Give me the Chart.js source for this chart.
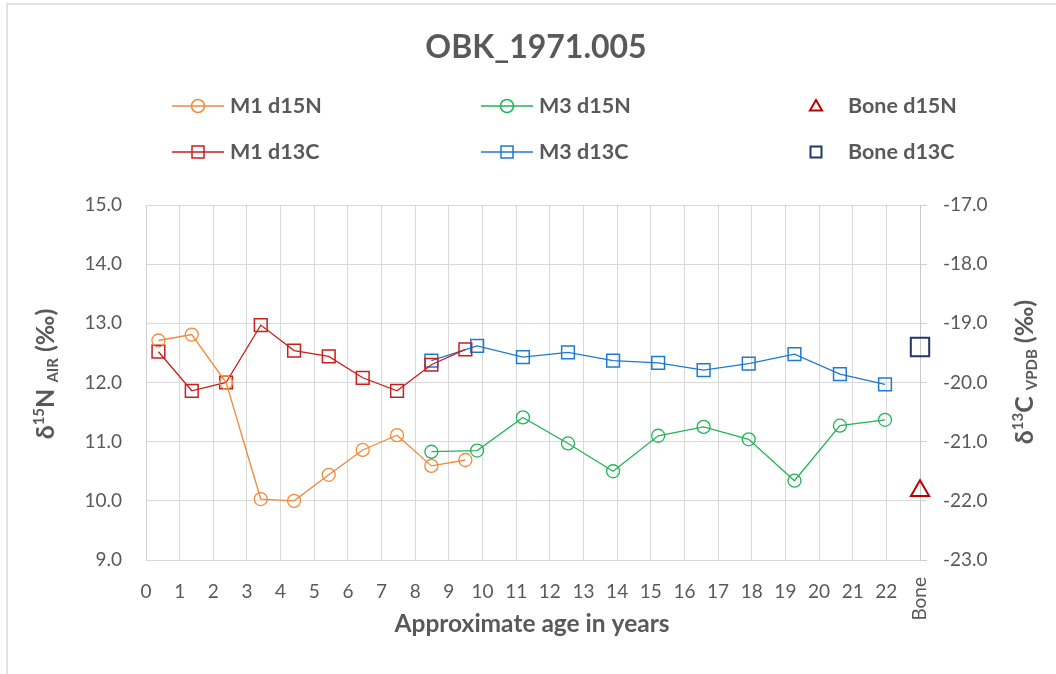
<!DOCTYPE html>
<html>
<head>
<meta charset="utf-8">
<script src="https://cdn.jsdelivr.net/npm/chart.js@4/dist/chart.umd.min.js"></script>
<style>
html,body{margin:0;padding:0;background:#fff;}
#wrap{width:1056px;height:674px;position:relative;}
</style>
</head>
<body>
<div id="wrap"><canvas id="c" width="1056" height="674"></canvas></div>
<script>
// ---- data ----
const chartTitle = 'OBK_1971.005';
const xTickMax = 23;            // last tick position = "Bone"
const boneLabel = 'Bone';
const ageM1 = [0.37, 1.36, 2.38, 3.41, 4.40, 5.43, 6.44, 7.46, 8.48, 9.49];
const m1d15N = [12.71, 12.81, 12.00, 10.03, 10.00, 10.44, 10.86, 11.11, 10.59, 10.69];
const m1d13C = [-19.48, -20.14, -20.00, -19.03, -19.46, -19.56, -19.92, -20.14, -19.70, -19.44];
const ageM3 = [8.48, 9.84, 11.20, 12.54, 13.88, 15.22, 16.57, 17.91, 19.27, 20.62, 21.96];
const m3d15N = [10.83, 10.85, 11.41, 10.97, 10.50, 11.10, 11.25, 11.04, 10.34, 11.27, 11.37];
const m3d13C = [-19.63, -19.38, -19.57, -19.49, -19.63, -19.67, -19.79, -19.68, -19.52, -19.86, -20.03];
const boneAge = [23];
const boned15N = [10.17];
const boned13C = [-19.40];

const TXT = '#595959';
const FONT = 'Lato, "Open Sans", "Liberation Sans", sans-serif';

function pts(xs, ys){ return xs.map((x,i)=>({x:x, y:ys[i]})); }

const datasets = [
  {label:'M1 d15N', data:pts(ageM1,m1d15N), yAxisID:'y', borderColor:'#F08A3C', backgroundColor:'rgba(0,0,0,0)',
   pointStyle:'circle', pointRadius:6.5, pointBorderWidth:1.3, borderWidth:1.3, showLine:true, clip:false},
  {label:'M3 d15N', data:pts(ageM3,m3d15N), yAxisID:'y', borderColor:'#22B455', backgroundColor:'rgba(0,0,0,0)',
   pointStyle:'circle', pointRadius:6.5, pointBorderWidth:1.3, borderWidth:1.3, showLine:true, clip:false},
  {label:'Bone d15N', data:pts(boneAge,boned15N), yAxisID:'y', borderColor:'#C00000', backgroundColor:'rgba(0,0,0,0)',
   pointStyle:'triangle', pointRadius:10.5, pointBorderWidth:2, borderWidth:2, showLine:false, clip:false},
  {label:'M1 d13C', data:pts(ageM1,m1d13C), yAxisID:'y2', borderColor:'#C81E1E', backgroundColor:'rgba(0,0,0,0)',
   pointStyle:'rect', pointRadius:9, pointBorderWidth:1.5, borderWidth:1.3, showLine:true, clip:false},
  {label:'M3 d13C', data:pts(ageM3,m3d13C), yAxisID:'y2', borderColor:'#1E7ACC', backgroundColor:'rgba(0,0,0,0)',
   pointStyle:'rect', pointRadius:9, pointBorderWidth:1.5, borderWidth:1.3, showLine:true, clip:false},
  {label:'Bone d13C', data:pts(boneAge,boned13C), yAxisID:'y2', borderColor:'#1F3864', backgroundColor:'rgba(0,0,0,0)',
   pointStyle:'rect', pointRadius:13, pointBorderWidth:2, borderWidth:2, showLine:false, clip:false}
];

// legend layout: [datasetIndex, lineStartX, textX, y, hasLine]
const legendItems = [
  [0, 172, 230, 106, true], [1, 481, 539, 106, true], [2, 816, 848, 106, false],
  [3, 172, 230, 152, true], [4, 481, 539, 152, true], [5, 816, 848, 152, false]
];

function marker(ctx, style, x, y, r, color, lw){
  ctx.save(); ctx.strokeStyle = color; ctx.lineWidth = lw; ctx.beginPath();
  if (style === 'circle') ctx.arc(x, y, r, 0, Math.PI*2);
  else if (style === 'rect') ctx.rect(x - r, y - r, 2*r, 2*r);
  else if (style === 'triangle') {
    ctx.moveTo(x, y - r); ctx.lineTo(x + r*0.866, y + r*0.5); ctx.lineTo(x - r*0.866, y + r*0.5); ctx.closePath();
  }
  ctx.stroke(); ctx.restore();
}

function richText(ctx, parts, cx, cy, angle){
  ctx.save();
  ctx.translate(cx, cy); ctx.rotate(angle);
  ctx.textBaseline = 'alphabetic'; ctx.textAlign = 'left'; ctx.fillStyle = TXT;
  let total = 0;
  parts.forEach(p => { ctx.font = p.font; p.w = ctx.measureText(p.t).width; total += p.w; });
  let x = -total/2;
  parts.forEach(p => { ctx.font = p.font; ctx.fillText(p.t, x, 9 + p.dy); x += p.w; });
  ctx.restore();
}

const decor = {
  id:'decor',
  beforeDraw(chart){
    const ctx = chart.ctx;
    ctx.save();
    ctx.fillStyle = '#fff'; ctx.fillRect(0,0,chart.width,chart.height);
    ctx.strokeStyle = '#d9d9d9'; ctx.lineWidth = 1.5;
    ctx.beginPath(); ctx.moveTo(7, 700); ctx.lineTo(7, 4); ctx.lineTo(1100, 4); ctx.stroke();
    ctx.restore();
  },
  afterDraw(chart){
    const ctx = chart.ctx;
    ctx.save();
    // title
    ctx.fillStyle = TXT; ctx.textAlign = 'center'; ctx.textBaseline = 'middle';
    ctx.font = 'bold 32px ' + FONT;
    ctx.fillText(chartTitle, 536, 48);
    // x axis title
    ctx.font = 'bold 24.5px ' + FONT;
    ctx.fillText('Approximate age in years', 532, 624);
    // Bone tick label (rotated)
    const xs = chart.scales.x;
    ctx.save();
    ctx.translate(xs.getPixelForValue(xTickMax), 577);
    ctx.rotate(-Math.PI/2);
    ctx.textAlign = 'right'; ctx.textBaseline = 'middle';
    ctx.font = '19px ' + FONT; ctx.fillText(boneLabel, 0, 0);
    ctx.restore();
    // legend
    ctx.font = 'bold 21.5px ' + FONT; ctx.textAlign = 'left'; ctx.textBaseline = 'middle';
    legendItems.forEach(it => {
      const ds = chart.data.datasets[it[0]];
      const y = it[3];
      if (it[4]) {
        ctx.save(); ctx.strokeStyle = ds.borderColor; ctx.lineWidth = 1.5;
        ctx.beginPath(); ctx.moveTo(it[1], y); ctx.lineTo(it[1] + 52, y); ctx.stroke(); ctx.restore();
        const r = ds.pointStyle === 'circle' ? 6.5 : 6;
        marker(ctx, ds.pointStyle, it[1] + 26, y, r, ds.borderColor, 1.5);
      } else {
        const r = ds.pointStyle === 'triangle' ? 7 : 5.5;
        marker(ctx, ds.pointStyle, it[1], y + (ds.pointStyle==='triangle'?1:0), r, ds.borderColor, 2);
      }
      ctx.fillStyle = TXT; ctx.fillText(ds.label, it[2], y);
    });
    // y axis titles
    const b = 'bold 25px ' + FONT, s = 'bold 15px ' + FONT;
    richText(ctx, [{t:'δ',font:b,dy:0},{t:'15',font:s,dy:-10},{t:'N ',font:b,dy:0},{t:'AIR',font:s,dy:4},{t:' (‰)',font:b,dy:0}],
      45, 374, -Math.PI/2);
    richText(ctx, [{t:'δ',font:b,dy:0},{t:'13',font:s,dy:-10},{t:'C ',font:b,dy:0},{t:'VPDB',font:s,dy:4},{t:' (‰)',font:b,dy:0}],
      1024, 372, -Math.PI/2);
    ctx.restore();
  }
};

new Chart(document.getElementById('c'), {
  type:'line',
  data:{datasets:datasets},
  plugins:[decor],
  options:{
    responsive:false, animation:false,
    layout:{padding:{top:205, left:0, right:0, bottom:0}},
    plugins:{legend:{display:false}, title:{display:false}, tooltip:{enabled:false}},
    elements:{line:{tension:0}},
    scales:{
      x:{type:'linear', min:0, max:xTickMax, position:'bottom',
         afterFit(s){ s.height = 114; },
         ticks:{stepSize:1, autoSkip:false, maxRotation:0, padding:20, color:TXT, font:{family:FONT, size:19},
                callback:(v)=> v === xTickMax ? '' : String(v)},
         grid:{color:'#d9d9d9', lineWidth:1, drawTicks:false},
         border:{color:'#d9d9d9', width:1}},
      y:{type:'linear', position:'left', min:9, max:15,
         afterFit(s){ s.width = 146; },
         ticks:{stepSize:1, padding:24, color:TXT, font:{family:FONT, size:19}, callback:(v)=>v.toFixed(1)},
         grid:{color:'#d9d9d9', lineWidth:1, drawTicks:false},
         border:{color:'#d0d0d0', width:1}},
      y2:{type:'linear', position:'right', min:-23, max:-17,
         afterFit(s){ s.width = 136; },
         ticks:{stepSize:1, padding:16, color:TXT, font:{family:FONT, size:19}, callback:(v)=>v.toFixed(1)},
         grid:{drawOnChartArea:false, color:'#d0d0d0', tickLength:7},
         border:{color:'#c8c8c8', width:1}}
    }
  }
});
</script>
</body>
</html>
